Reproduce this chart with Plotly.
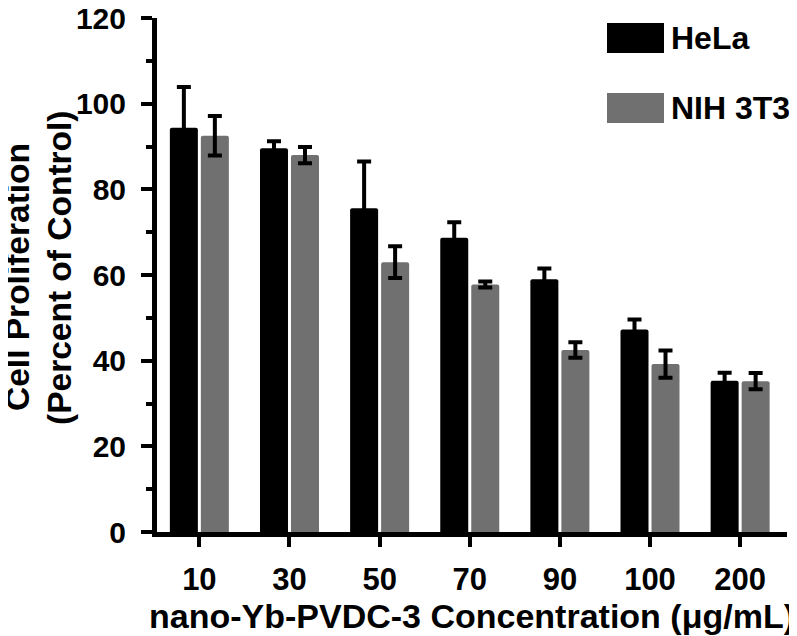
import plotly.graph_objects as go

# ---- data ----
concentrations = ["10", "30", "50", "70", "90", "100", "200"]
hela_values = [94.4, 89.6, 75.6, 68.7, 59.0, 47.3, 35.3]
hela_errors = [9.5, 1.6, 10.9, 3.6, 2.5, 2.3, 1.9]
nih_values = [92.5, 88.0, 63.0, 57.8, 42.5, 39.2, 35.2]
nih_errors = [4.6, 1.9, 3.7, 0.7, 1.8, 3.2, 1.9]
series_names = ["HeLa", "NIH 3T3"]
y_ticks = [0, 20, 40, 60, 80, 100, 120]

# ---- styling ----
PAGE_OFFSET = 8          # default body margin of the html page
W, H = 797 - PAGE_OFFSET, 636 - PAGE_OFFSET
ML, MR, MT, MB = 149, 10, 10, 104
FONT = "Liberation Sans, Arial, Helvetica, sans-serif"
BLACK = "#000000"
GRAY = "#707070"
colors = [BLACK, GRAY]

plot_w = W - ML - MR
plot_h = H - MT - MB


def px_to_paper_x(px):
    return (px - PAGE_OFFSET - ML) / plot_w


def px_to_paper_y(py):
    return (H - MB - (py - PAGE_OFFSET)) / plot_h


fig = go.Figure()
for name, vals, errs, col in zip(series_names, [hela_values, nih_values],
                                 [hela_errors, nih_errors], colors):
    fig.add_trace(go.Bar(
        x=concentrations, y=vals, name=name,
        marker=dict(color=col, line=dict(width=0), cornerradius=2),
        error_y=dict(type="data", array=errs, visible=True,
                     color=BLACK, thickness=4, width=7),
        showlegend=False,
    ))

# manual legend (large swatches like the original)
legend_rows = [(23, 53), (93, 123)]
for (top, bot), name, col in zip(legend_rows, series_names, colors):
    fig.add_shape(type="rect", xref="paper", yref="paper",
                  x0=px_to_paper_x(607), x1=px_to_paper_x(664),
                  y0=px_to_paper_y(bot), y1=px_to_paper_y(top),
                  fillcolor=col, line=dict(width=0), layer="above")
    fig.add_annotation(text=name, xref="paper", yref="paper",
                       x=px_to_paper_x(669), y=px_to_paper_y((top + bot) / 2),
                       xanchor="left", yanchor="middle", showarrow=False,
                       font=dict(family=FONT, size=32, color=BLACK, weight="bold"))

# y-axis title as two rotated lines
for text, cx, cy in [("Cell Proliferation", 17.5, 277.5),
                     ("(Percent of Control)", 59, 268)]:
    fig.add_annotation(text=text, xref="paper", yref="paper",
                       x=px_to_paper_x(cx), y=px_to_paper_y(cy),
                       xanchor="center", yanchor="middle", textangle=-90,
                       showarrow=False,
                       font=dict(family=FONT, size=33.5, color=BLACK, weight="bold"))

fig.update_layout(
    width=W, height=H,
    margin=dict(l=ML, r=MR, t=MT, b=MB, pad=0, autoexpand=False),
    paper_bgcolor="white", plot_bgcolor="white",
    barmode="group", bargap=0.312, bargroupgap=0.097,
    font=dict(family=FONT, color=BLACK),
    xaxis=dict(
        type="category", range=[-0.47, 6.52], automargin=False,
        showline=True, linewidth=5, linecolor=BLACK,
        ticks="outside", ticklen=10, tickwidth=4, tickcolor=BLACK,
        tickfont=dict(family=FONT, size=31, color=BLACK, weight="bold"),
        ticklabelstandoff=6,
        showgrid=False, zeroline=False,
        title=dict(text="nano-Yb-PVDC-3 Concentration (\u03bcg/mL)",
                   font=dict(family=FONT, size=34, color=BLACK, weight="bold"),
                   standoff=5),
    ),
    yaxis=dict(
        range=[0, 120], tickvals=y_ticks, automargin=False,
        ticklabeloverflow="allow",
        showline=True, linewidth=5, linecolor=BLACK,
        ticks="outside", ticklen=11, tickwidth=4, tickcolor=BLACK,
        tickfont=dict(family=FONT, size=30, color=BLACK, weight="bold"),
        ticklabelstandoff=9,
        minor=dict(ticks="outside", ticklen=6, tickwidth=4, tickcolor=BLACK, dtick=10, showgrid=False),
        showgrid=False, zeroline=False,
    ),
)

fig.write_html("out.html")
